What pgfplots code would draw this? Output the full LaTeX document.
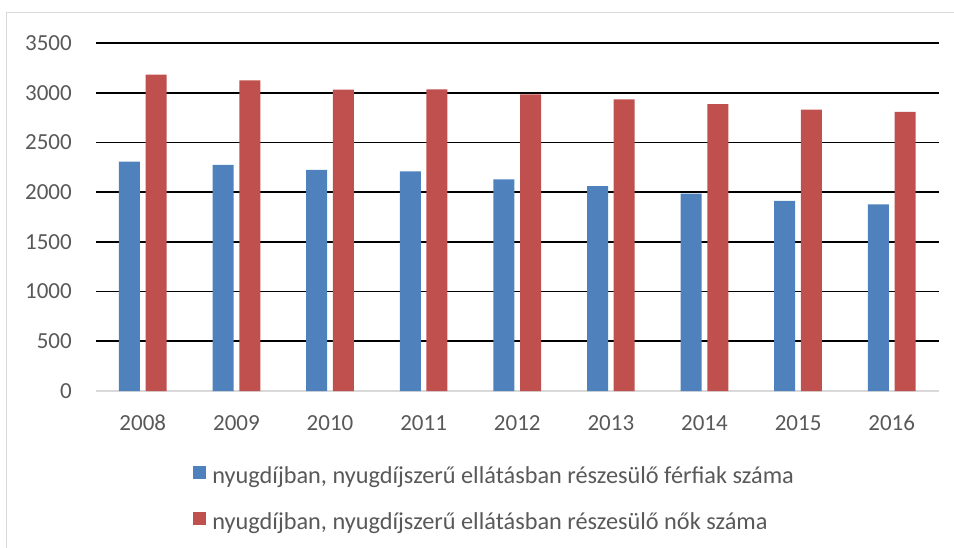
\documentclass[border=0pt]{standalone}
\usepackage{fontspec}
\setmainfont{Carlito}
\usepackage{pgfplots}
\pgfplotsset{compat=1.18}
\definecolor{cblue}{HTML}{4F81BD}
\definecolor{cred}{HTML}{C0504D}
\definecolor{ctext}{HTML}{595959}
\definecolor{cgrid}{HTML}{D9D9D9}
\begin{document}
\fontsize{23bp}{27bp}\selectfont
\begin{tikzpicture}
\useasboundingbox (-96bp,-157bp) rectangle (858bp,391bp);
\draw[cgrid, line width=1bp] (-89bp,-157bp) -- (-89bp,378bp) -- (858bp,378bp);
\begin{axis}[
  at={(0,0)}, anchor=south west,
  scale only axis, width=842.5bp, height=348bp,
  ybar=5.7bp, bar width=21bp,
  xmin=-0.5, xmax=8.5, ymin=0, ymax=3500,
  xtick=data,
  xticklabels={2008,2009,2010,2011,2012,2013,2014,2015,2016},
  ytick={0,500,...,3500},
  axis x line*=bottom, axis y line*=left,
  y axis line style={draw=none},
  x axis line style={cgrid, line width=1.2bp, -},
  ymajorgrids, grid style={black, line width=1.7bp},
  major tick length=0pt,
  tick label style={text=ctext, font=\fontsize{23bp}{27bp}\selectfont, inner sep=0pt},
  /pgf/number format/assume math mode=true,
  /pgf/number format/1000 sep={},
  yticklabel style={anchor=east, xshift=-24bp},
  xticklabel style={anchor=north, yshift=-24bp},
  legend cell align=left,
  legend style={draw=none, fill=none, at={(0.115,-0.2155)}, anchor=north west,
    font=\fontsize{24.3bp}{28bp}\selectfont, text=ctext,
    row sep=23bp, inner sep=0pt, outer sep=0pt,
    nodes={inner sep=0pt, text height=16bp, text depth=5bp}},
  legend image code/.code={\fill[#1] (0bp,-1bp) rectangle (13.5bp,12.5bp); \path (19.5bp,0bp);},
]
\addplot[fill=cblue, draw=none] coordinates {(0,2308) (1,2275) (2,2224) (3,2209) (4,2129) (5,2061) (6,1984) (7,1913) (8,1876)};
\addplot[fill=cred, draw=none] coordinates {(0,3182) (1,3124) (2,3030) (3,3033) (4,2983) (5,2932) (6,2885) (7,2831) (8,2808)};
\legend{{nyugdíjban, nyugdíjszerű ellátásban részesülő férfiak száma}, {nyugdíjban, nyugdíjszerű ellátásban részesülő nők száma}}
\end{axis}
\end{tikzpicture}
\end{document}
